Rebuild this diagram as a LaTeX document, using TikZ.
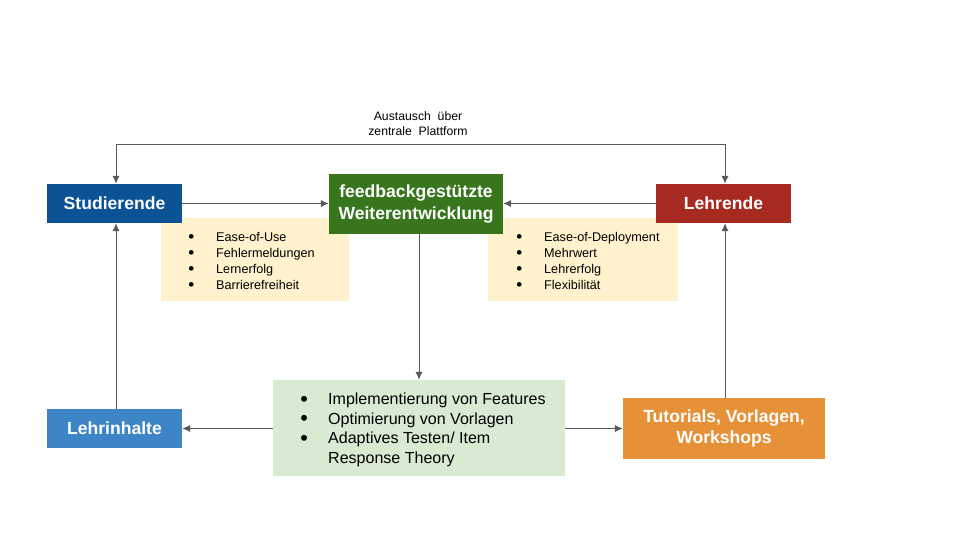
\documentclass[tikz,border=0pt]{standalone}
\usepackage{fontspec}
\setmainfont{Liberation Sans}
\usetikzlibrary{arrows.meta}
\usetikzlibrary{calc}
\definecolor{studblue}{HTML}{0B5394}
\definecolor{devgreen}{HTML}{38761D}
\definecolor{lehrred}{HTML}{A62A1F}
\definecolor{inhaltblue}{HTML}{3D85C6}
\definecolor{tutorange}{HTML}{E69138}
\definecolor{listyellow}{HTML}{FFF2CC}
\definecolor{listgreen}{HTML}{D9EAD3}
\definecolor{linegray}{HTML}{595959}
\newlength{\unitpx}
\setlength{\unitpx}{0.709pt}
\newcommand{\bulletrow}[1]{\makebox[28\unitpx][l]{\smash{\raisebox{-0.1em}{\scalebox{1.35}{\textbullet}}}}#1\\}
\begin{document}
\begin{tikzpicture}
[x=0.025cm,y=-0.025cm,
  rolenode/.style={shape=rectangle,inner sep=0pt,text=white,align=center,
    font=\fontsize{12.5}{15}\selectfont\bfseries},%
  listnode/.style={shape=rectangle,inner sep=0pt,anchor=north west},%
  linedecorate/.style={draw=linegray,line width=0.6pt,
    -{Latex[length=5.5pt,width=5pt]}}]
\useasboundingbox (0,0) rectangle (960,540);
%% list boxes (behind the role boxes)
\fill[listyellow] (161,218) rectangle (349,301);
\fill[listyellow] (488,218) rectangle (678,301);
\node[listnode,font=\fontsize{9}{11.3}\selectfont,align=left] (listleft) at (188,232)
  {\bulletrow{Ease-of-Use}\bulletrow{Fehlermeldungen}\bulletrow{Lernerfolg}\bulletrow{Barrierefreiheit}};
\node[listnode,font=\fontsize{9}{11.3}\selectfont,align=left] (listright) at (516,232)
  {\bulletrow{Ease-of-Deployment}\bulletrow{Mehrwert}\bulletrow{Lehrerfolg}\bulletrow{Flexibilität}};
%% role boxes
\foreach \nodename/\x/\y/\w/\h/\fillcolor/\label in {
  stud/114.5/203.5/135/39/studblue/Studierende,
  dev/416/204/174/60/devgreen/{feedbackgestützte\\Weiterentwicklung},
  lehr/723.5/203.5/135/39/lehrred/Lehrende,
  inhalt/114.5/428.5/135/39/inhaltblue/Lehrinhalte,
  tut/724/428.5/202/61/tutorange/{Tutorials, Vorlagen,\\Workshops}}
{
  \node (\nodename) at (\x,\y) [rolenode,fill=\fillcolor,
    minimum width=\w*0.025cm,minimum height=\h*0.025cm] {\label};
}
%% measures box
\node (measures) at (419,428) [shape=rectangle,fill=listgreen,inner sep=0pt,
  minimum width=292*0.025cm,minimum height=96*0.025cm] {};
\node[listnode,font=\fontsize{11.4}{13.8}\selectfont,align=left] (measurelist) at (300,393)
  {\bulletrow{Implementierung von Features}\bulletrow{Optimierung von Vorlagen}%
   \bulletrow{Adaptives Testen/ Item}\makebox[28\unitpx][l]{}Response Theory};
%% platform exchange
\coordinate (topleft) at (116,144);
\coordinate (topright) at (725,144);
\node[font=\fontsize{8.7}{10.6}\selectfont,align=center] (platform) at (418,124)
  {Austausch~ über\\zentrale~ Plattform};
\draw[linedecorate,-] (topleft) -- (topright);
\draw[linedecorate] (topleft) -- (stud.north -| topleft);
\draw[linedecorate] (topright) -- (lehr.north -| topright);
%% edges
\draw[linedecorate] (stud.east) -- (dev.west |- stud.east);
\draw[linedecorate] (lehr.west) -- (dev.east |- lehr.west);
\draw[linedecorate] (dev.south -| measures.north) -- (measures.north);
\draw[linedecorate] (measures.west |- inhalt.east) -- (inhalt.east);
\draw[linedecorate] (measures.east |- tut.west) -- (tut.west);
\draw[linedecorate] (inhalt.north -| topleft) -- (stud.south -| topleft);
\draw[linedecorate] (tut.north -| topright) -- (lehr.south -| topright);
\end{tikzpicture}
\end{document}
